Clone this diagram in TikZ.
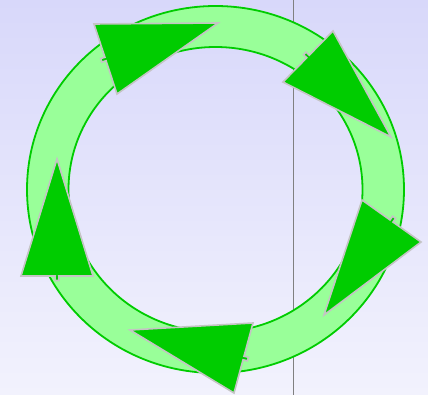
\documentclass[tikz,border=0pt]{standalone}
\usepackage{tikz}
\usetikzlibrary{calc}
\definecolor{bgtop}{HTML}{D8D8FA}
\definecolor{bgbottom}{HTML}{F2F2FD}
\definecolor{ringfill}{HTML}{99FF99}
\definecolor{ringedge}{HTML}{00CC00}
\definecolor{headfill}{HTML}{00CC00}
\definecolor{headedge}{HTML}{C4C4C4}
\definecolor{guidegray}{HTML}{808080}

\begin{document}
\begin{tikzpicture}[x=1pt,y=-1pt,
  ring/.style={fill=ringfill,draw=ringedge,line width=1.8pt,even odd rule},
  head/.style={fill=headfill,draw=headedge,line width=1.6pt,line join=miter}]
  \shade[top color=bgtop,bottom color=bgbottom] (0,0) rectangle (428,395);
  \useasboundingbox (0,0) rectangle (428,395);
  % guide line sits under the ring
  \draw[guidegray,line width=0.9pt] (293,0)--(293,395);
  \coordinate (c) at (215.5,189.5);
  \path[ring] (c) ellipse [x radius=188.5,y radius=183.5]
              (c) ellipse [x radius=147,y radius=142.5];
  % arrow heads: base end A, base end B, tip T
  \foreach \ax/\ay/\bx/\by/\tx/\ty in {94/24/117/94/218/23,
      333/31/283/82/391/137, 362/200/421/242/324/315,
      253/323/234/393/130/330, 93/276/21/276/57/159}{
    \coordinate (A) at (\ax,\ay);
    \coordinate (B) at (\bx,\by);
    \coordinate (T) at (\tx,\ty);
    \coordinate (M) at ($(A)!0.5!(B)$);
    \coordinate (s1) at ($(M)!1.8pt!(A)$);
    \coordinate (s2) at ($(M)!1.8pt!(B)$);
    \draw[head] (A) -- (s1) -- ($(s1)!-4.5pt!(T)$) -- ($(s2)!-4.5pt!(T)$)
      -- (s2) -- (B) -- (T) -- cycle;
  }
\end{tikzpicture}
\end{document}
